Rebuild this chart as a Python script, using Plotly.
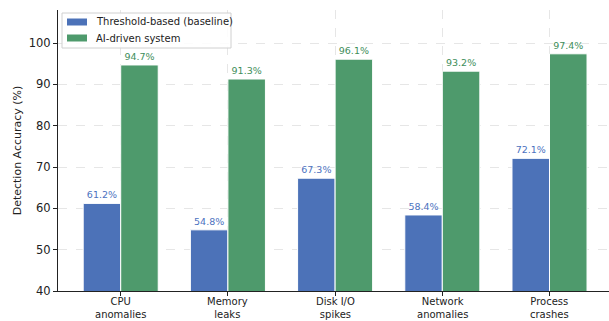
import plotly.graph_objects as go

categories = ["CPU<br>anomalies", "Memory<br>leaks", "Disk I/O<br>spikes", "Network<br>anomalies", "Process<br>crashes"]
baseline = [61.2, 54.8, 67.3, 58.4, 72.1]
ai_system = [94.7, 91.3, 96.1, 93.2, 97.4]
y_ticks = [40, 50, 60, 70, 80, 90, 100]
series_names = ["Threshold-based (baseline)", "AI-driven system"]

blue = "#4C72B8"
green = "#4E9A6C"
x = list(range(len(categories)))

W, H = 609, 321
ML, MR, MT, MB = 58, 0, 10, 30

fig = go.Figure()
fig.add_trace(go.Bar(
    x=x, y=baseline, name=series_names[0],
    marker=dict(color=blue, line=dict(color="white", width=1)),
    text=[f"{v:.1f}%" for v in baseline], textposition="outside",
    textfont=dict(color="#4C72C0", size=9.5), cliponaxis=False,
))
fig.add_trace(go.Bar(
    x=x, y=ai_system, name=series_names[1],
    marker=dict(color=green, line=dict(color="white", width=1)),
    text=[f"{v:.1f}%" for v in ai_system], textposition="outside",
    textfont=dict(color="#3E8E5A", size=9.5), cliponaxis=False,
))

pw = W - ML - MR
ph = H - MT - MB
def px(xp):
    return (xp - ML) / pw
def py(yp):
    return 1 - (yp - MT) / ph

shapes = [dict(type="rect", xref="paper", yref="paper",
               x0=px(62), x1=px(231), y0=py(48), y1=py(13),
               line=dict(color="#d0d0d0", width=1), fillcolor="rgba(255,255,255,0.85)", layer="above")]
annotations = []
for i, (nm, col) in enumerate(zip(series_names, [blue, green])):
    yc = 22 + i * 16
    shapes.append(dict(type="rect", xref="paper", yref="paper",
                       x0=px(67), x1=px(87), y0=py(yc + 3.5), y1=py(yc - 3.5),
                       line=dict(width=0), fillcolor=col, layer="above"))
    annotations.append(dict(xref="paper", yref="paper", x=px(94), y=py(yc),
                            xanchor="left", yanchor="middle", text=nm, showarrow=False,
                            font=dict(size=10, color="#222", family="DejaVu Sans")))

# category labels as annotations beneath the axis
for xi, lab in zip(x, categories):
    annotations.append(dict(xref="x", yref="paper", x=xi, y=0, yanchor="top", xanchor="center",
                            yshift=-3, text=lab, showarrow=False,
                            font=dict(size=10, color="#222", family="DejaVu Sans")))

fig.update_layout(
    width=W, height=H,
    margin=dict(l=ML, r=MR, t=MT, b=MB),
    barmode="group", bargap=0.3, bargroupgap=0,
    plot_bgcolor="white", paper_bgcolor="white",
    font=dict(family="DejaVu Sans", size=11, color="#222"),
    showlegend=False,
    shapes=shapes, annotations=annotations,
)
fig.update_xaxes(
    tickmode="array", tickvals=x, showticklabels=False,
    range=[-0.585, 4.555], automargin=False,
    showline=True, linecolor="#222", linewidth=1,
    ticks="outside", ticklen=4, tickcolor="#222",
    showgrid=True, gridcolor="#e6e6e6", griddash="dash", gridwidth=0.8,
    zeroline=False,
)
fig.update_yaxes(
    tickmode="array", tickvals=y_ticks,
    range=[40, 108], automargin=False,
    showline=True, linecolor="#222", linewidth=1,
    ticks="outside", ticklen=4, tickcolor="#222",
    showgrid=True, gridcolor="#e6e6e6", griddash="dash", gridwidth=0.8,
    title=dict(text="Detection Accuracy (%)", font=dict(size=11), standoff=4),
    tickfont=dict(size=11.5), zeroline=False,
)

fig.write_html("out.html")
